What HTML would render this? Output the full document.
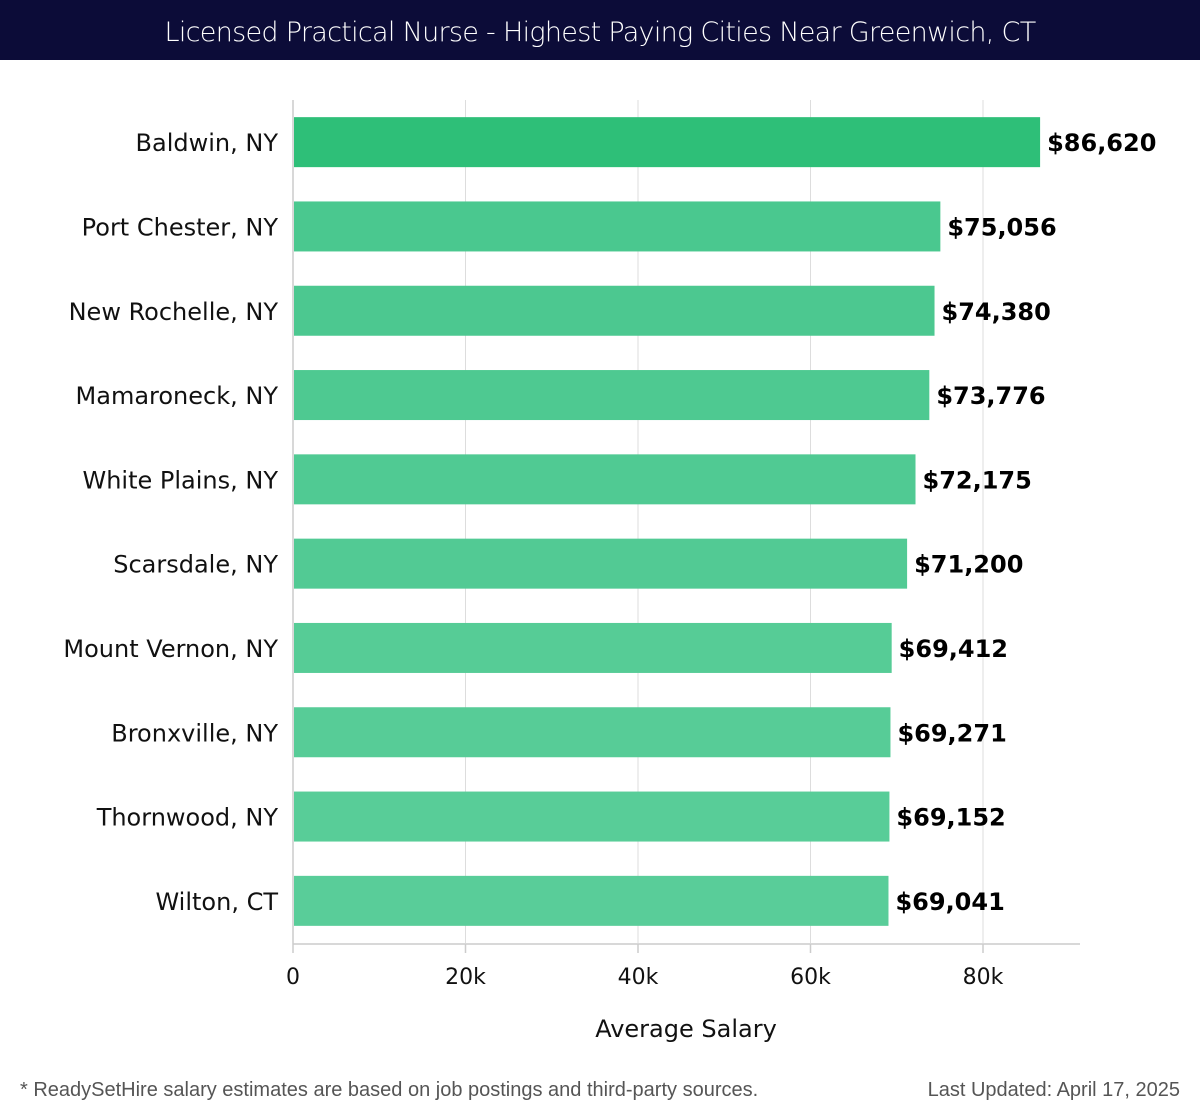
<!DOCTYPE html>
<html><head><meta charset="utf-8">
<style>
body{margin:0;width:1200px;height:1120px;background:#fff;font-family:"DejaVu Sans","Liberation Sans",sans-serif;overflow:hidden;position:relative}
#title{position:absolute;left:0;top:0;width:1200px;height:60px;background:#0c0c38;color:#fff;font-size:27px;font-weight:300;text-align:center;line-height:66px;font-family:"DejaVu Sans","Liberation Sans",sans-serif;letter-spacing:-0.7px}
.foot{position:absolute;top:1079px;font-size:20px;color:#555;font-family:"Liberation Sans",sans-serif}
</style></head>
<body>
<div id="title">Licensed Practical Nurse - Highest Paying Cities Near Greenwich, CT</div>
<svg id="chart" width="1200" height="1070" style="position:absolute;left:0;top:0"></svg>
<div class="foot" style="left:20px">* ReadySetHire salary estimates are based on job postings and third-party sources.</div>
<div class="foot" style="right:20px">Last Updated: April 17, 2025</div>
<script>
const categories=["Baldwin, NY","Port Chester, NY","New Rochelle, NY","Mamaroneck, NY","White Plains, NY","Scarsdale, NY","Mount Vernon, NY","Bronxville, NY","Thornwood, NY","Wilton, CT"];
const salaries=[86620,75056,74380,73776,72175,71200,69412,69271,69152,69041];
const valueLabels=["$86,620","$75,056","$74,380","$73,776","$72,175","$71,200","$69,412","$69,271","$69,152","$69,041"];
const tickValues=[0,20000,40000,60000,80000];
const tickLabels=["0","20k","40k","60k","80k"];

const NS="http://www.w3.org/2000/svg";
const svg=document.getElementById('chart');
const x0=293,pxPerUnit=690/80000,plotTop=100,plotBottom=943,plotRight=1080;
const band=(plotBottom-plotTop)/categories.length;
const xs=v=>x0+v*pxPerUnit;
const yc=i=>plotTop+band*(i+0.5);
function mk(t,a){const e=document.createElementNS(NS,t);for(const k in a)e.setAttribute(k,a[k]);svg.appendChild(e);return e;}
const colors=["#2ebf78","#4ac88f","#4cc890","#4ec991","#50ca93","#52ca94","#56cc96","#57cc97","#58cd98","#59cd99"];
tickValues.forEach((v,i)=>{
  const g=mk('line',{x1:xs(v),x2:xs(v),y1:plotTop,y2:plotBottom,stroke:"#dddddd","stroke-width":1});
  
  
  const tk=mk('line',{x1:xs(v),x2:xs(v),y1:944,y2:953,stroke:"#cccccc","stroke-width":1.5});
  
  
  const t=mk('text',{x:xs(v),y:984,"text-anchor":"middle","font-size":22,fill:"#111"});
  t.textContent=tickLabels[i];
  
  
});
const ax=mk('line',{x1:x0,x2:plotRight,y1:944,y2:944,stroke:"#cccccc","stroke-width":1.5});


const ay=mk('line',{x1:x0,x2:x0,y1:plotTop,y2:944,stroke:"#cccccc","stroke-width":1.5});


categories.forEach((c,i)=>{
  const y=yc(i);
  const r=mk('rect',{x:x0+1,y:y-25,width:xs(salaries[i])-x0-1,height:50,fill:colors[i]});
  
  
  const l=mk('text',{x:278,y:y+9,"text-anchor":"end","font-size":24,fill:"#111"});
  l.textContent=c;
  
  
  const v=mk('text',{x:xs(salaries[i])+7,y:y+9,"font-size":24,"font-weight":"bold",fill:"#000"});
  v.textContent=valueLabels[i];
  
  
});
const xt=mk('text',{x:686,y:1037,"text-anchor":"middle","font-size":24,fill:"#111"});
xt.textContent="Average Salary";


</script>
</body></html>
